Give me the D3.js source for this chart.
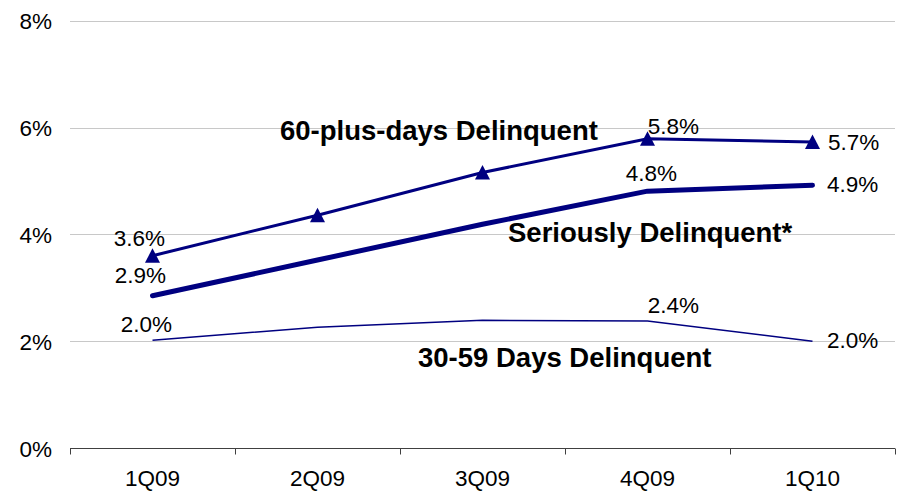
<!DOCTYPE html>
<html>
<head>
<meta charset="utf-8">
<script src="https://cdn.jsdelivr.net/npm/d3@7"></script>
<style>
  html, body { margin: 0; padding: 0; background: #fff; }
  svg { display: block; font-family: "Liberation Sans", Arial, sans-serif; }
</style>
</head>
<body>
<svg id="chart" width="901" height="494"></svg>
<script>
// ---- data ----
const categories = ["1Q09", "2Q09", "3Q09", "4Q09", "1Q10"];
const sixtyPlus = [3.6, 4.36, 5.16, 5.79, 5.73];
const seriously = [2.85, 3.52, 4.19, 4.81, 4.92];
const thirtyFiftyNine = [2.02, 2.26, 2.39, 2.38, 2.0];
const sixtyPlusLabels = ["3.6%", null, null, "5.8%", "5.7%"];
const seriouslyLabels = ["2.9%", null, null, "4.8%", "4.9%"];
const thirtyLabels = ["2.0%", null, null, "2.4%", "2.0%"];
const yTicks = [0, 2, 4, 6, 8];
const seriesNames = ["60-plus-days Delinquent", "Seriously Delinquent*", "30-59 Days Delinquent"];

// ---- layout ----
const svg = d3.select("#chart");
const x = d3.scaleBand().domain(categories).range([70, 895]).padding(0);
const y = d3.scaleLinear().domain([0, 8]).range([448, 20.8]);
const navy = "#000080";

// gridlines
svg.append("g").selectAll("line").data(yTicks.filter(d => d > 0)).join("line")
  .attr("x1", 70).attr("x2", 895)
  .attr("y1", d => Math.round(y(d)) + 0.5).attr("y2", d => Math.round(y(d)) + 0.5)
  .attr("stroke", "#c8c8c8").attr("stroke-width", 1);

// y tick labels
svg.append("g").selectAll("text").data(yTicks).join("text")
  .attr("x", 52).attr("y", d => y(d) + 8.5)
  .attr("text-anchor", "end").attr("font-size", 22.5).attr("fill", "#000")
  .text(d => d + "%");

// x axis
const xAxis = svg.append("g").attr("transform", `translate(0,${Math.round(y(0)) + 0.5})`);
xAxis.append("line").attr("x1", 70).attr("x2", 895).attr("stroke", "#404040").attr("stroke-width", 1);
const bounds = categories.map(c => x(c)).concat([x.range()[1]]);
xAxis.selectAll("line.tick").data(bounds).join("line").attr("class", "tick")
  .attr("x1", d => Math.round(d) + 0.5).attr("x2", d => Math.round(d) + 0.5)
  .attr("y1", 0).attr("y2", 6).attr("stroke", "#404040").attr("stroke-width", 1);
svg.append("g").selectAll("text").data(categories).join("text")
  .attr("x", d => x(d) + x.bandwidth() / 2).attr("y", 486)
  .attr("text-anchor", "middle").attr("font-size", 22.5).attr("fill", "#000")
  .text(d => d);

const cx = (d, i) => x(categories[i]) + x.bandwidth() / 2;
const line = d3.line().x(cx).y(d => y(d));

// lines
svg.append("path").datum(thirtyFiftyNine).attr("d", line)
  .attr("fill", "none").attr("stroke", navy).attr("stroke-width", 1.5);
svg.append("path").datum(seriously).attr("d", line)
  .attr("fill", "none").attr("stroke", navy).attr("stroke-width", 5).attr("stroke-linecap", "round").attr("stroke-linejoin", "round");
svg.append("path").datum(sixtyPlus).attr("d", line)
  .attr("fill", "none").attr("stroke", navy).attr("stroke-width", 3);

// triangle markers
svg.append("g").selectAll("path").data(sixtyPlus).join("path")
  .attr("d", (d, i) => {
    const px = cx(d, i), py = y(d);
    return `M${px},${py - 7.5}L${px + 7.5},${py + 7}L${px - 7.5},${py + 7}Z`;
  })
  .attr("fill", navy);

// value labels (offsets relative to point)
function addLabels(values, labels, offsets) {
  svg.append("g").selectAll("text")
    .data(values.map((v, i) => ({ v, i, t: labels[i] })).filter(d => d.t))
    .join("text")
    .attr("x", d => cx(d.v, d.i) + offsets[d.i][0])
    .attr("y", d => y(d.v) + offsets[d.i][1])
    .attr("text-anchor", d => offsets[d.i][2])
    .attr("font-size", 22.5).attr("fill", "#000")
    .text(d => d.t);
}
addLabels(sixtyPlus, sixtyPlusLabels, { 0: [-13, -10, "middle"], 3: [26, -5, "middle"], 4: [15.5, 8, "start"] });
addLabels(seriously, seriouslyLabels, { 0: [-12, -13, "middle"], 3: [4, -10, "middle"], 4: [14.5, 7, "start"] });
addLabels(thirtyFiftyNine, thirtyLabels, { 0: [-6, -8, "middle"], 3: [26, -8, "middle"], 4: [14.5, 7, "start"] });

// series name labels
const nameStyle = sel => sel.attr("font-size", 27.5).attr("font-weight", "bold").attr("fill", "#000");
svg.append("text").attr("x", 280).attr("y", 140).text(seriesNames[0]).call(nameStyle);
svg.append("text").attr("x", 508).attr("y", 242).text(seriesNames[1]).call(nameStyle);
svg.append("text").attr("x", 418).attr("y", 367).text(seriesNames[2]).call(nameStyle);
</script>
</body>
</html>
